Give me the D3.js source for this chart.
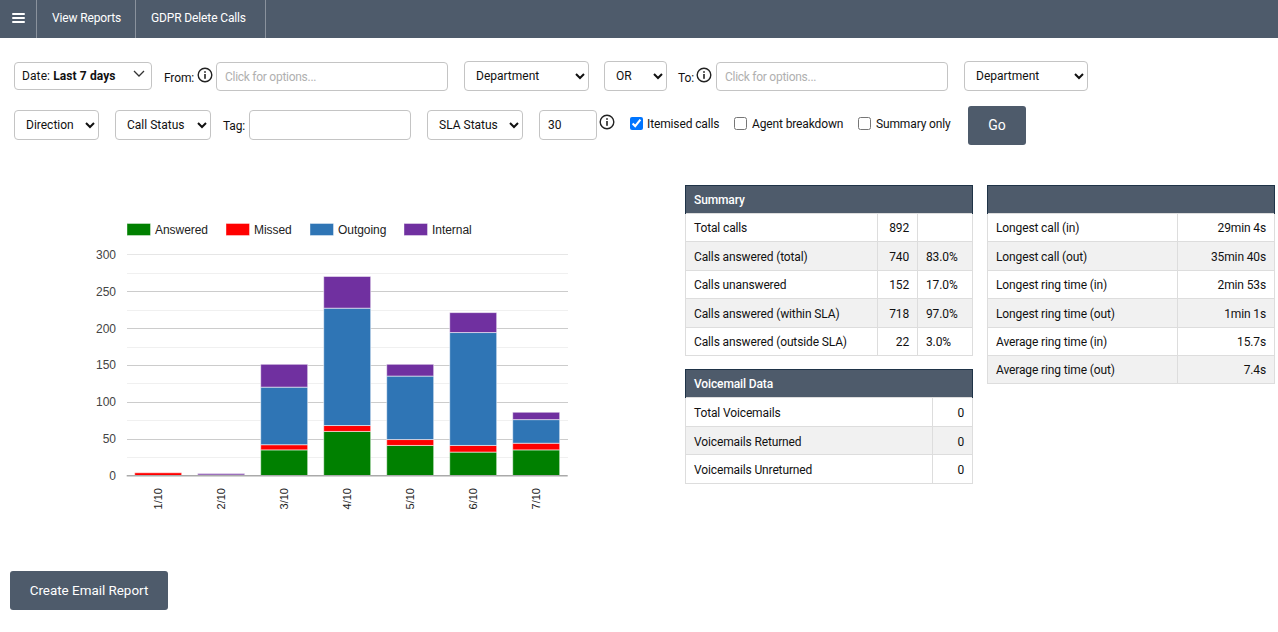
<!DOCTYPE html>
<html><head><meta charset="utf-8">
<script src="https://cdn.jsdelivr.net/npm/d3@7"></script>
<style>
html,body{margin:0;padding:0;background:#fff;overflow:hidden;width:1278px;height:632px;font-family:Roboto,Arial,sans-serif;font-size:12px;color:#111;letter-spacing:-0.13px}
#page{position:relative;width:1278px;height:632px}
#page>*{position:absolute;box-sizing:border-box}
.nav{left:0;top:0;width:1278px;height:38px;background:#4e5b6b}
.sep{top:0;width:1px;height:38px;background:#8a929d}
.navt{top:0;line-height:37px;color:#fff}
select,input[type=text]{font:12px Roboto,Arial,sans-serif;color:#111;background:#fff;border:1px solid #c4c4c4;border-radius:4px;box-sizing:border-box;outline:none;letter-spacing:0}
select{padding-left:7px}
input[type=text]{padding:0 8px}
input::placeholder{color:#b0b0b0;opacity:1;letter-spacing:-0.27px}
.lbl{white-space:nowrap;line-height:14px}
.btn{background:#4e5b6b;color:#fff;border-radius:3px;text-align:center;font-weight:400;letter-spacing:0}
input[type=checkbox]{margin:0;width:13px;height:13px}
table{border-collapse:collapse;table-layout:fixed;font-size:12px}
th{background:#4e5b6b;color:#fff;font-weight:500;text-align:left;padding:0 8px;border:1px solid #1f3347;border-bottom:none;height:28px;box-sizing:border-box}
td{border:1px solid #ddd;padding:1.6px 8px 0 8px;height:28.4px;box-sizing:border-box;white-space:nowrap}
table.vm td{padding-top:2px;height:28.7px}
tr.alt td{background:#f1f1f1}
td.r{text-align:right}
</style></head><body><div id="page">
<svg id="chart" width="1278" height="632" style="left:0;top:0"></svg>
</div>
<script>
const dates = ["1/10","2/10","3/10","4/10","5/10","6/10","7/10"];
const seriesNames = ["Answered","Missed","Outgoing","Internal"];
const seriesColors = ["#008000","#ff0000","#2f75b5","#7030a0"];
const answered = [0,0,35,60,41,32,35];
const missed = [4,1,7,8,8,9,9];
const outgoing = [0,0,78,159,86,153,32];
const internal = [0,2,31,43,16,27,10];
const legendX = [127,226,310,404];

const summaryRows = [["Total calls","892",""],["Calls answered (total)","740","83.0%"],["Calls unanswered","152","17.0%"],["Calls answered (within SLA)","718","97.0%"],["Calls answered (outside SLA)","22","3.0%"]];
const voicemailRows = [["Total Voicemails","0"],["Voicemails Returned","0"],["Voicemails Unreturned","0"]];
const timeRows = [["Longest call (in)","29min 4s"],["Longest call (out)","35min 40s"],["Longest ring time (in)","2min 53s"],["Longest ring time (out)","1min 1s"],["Average ring time (in)","15.7s"],["Average ring time (out)","7.4s"]];

const page = d3.select("#page");
const place = (s,x,y,w,h)=>{s.style("left",x+"px").style("top",y+"px");if(w)s.style("width",w+"px");if(h)s.style("height",h+"px");return s;};

// nav
page.append("div").attr("class","nav");
[36,135,265].forEach(x=>place(page.append("div").attr("class","sep"),x,0));
[[52,"View Reports"],[151,"GDPR Delete Calls"]].forEach(d=>place(page.append("div").attr("class","navt").text(d[1]),d[0],0));
[13,17,21].forEach(y=>place(page.append("div").style("background","#fff").style("border-radius","1px"),12,y-0.5,13,2));

// form
function sel(t,x,y,w,h){place(page.append("select"),x,y,w,h).append("option").text(t);}
function lab(t,x,y){place(page.append("div").attr("class","lbl").text(t),x,y);}
function inp(ph,x,y,w,h,v){const i=place(page.append("input").attr("type","text"),x,y,w,h);if(ph)i.attr("placeholder",ph);if(v)i.attr("value",v);}
function info(x,y){
  const s=place(page.append("svg").attr("width",16).attr("height",16),x-8,y-8);
  s.append("circle").attr("cx",8).attr("cy",8).attr("r",6.8).attr("fill","none").attr("stroke","#222").attr("stroke-width",1.4);
  s.append("rect").attr("x",7.2).attr("y",7).attr("width",1.6).attr("height",4.8).attr("fill","#222");
  s.append("rect").attr("x",7.2).attr("y",4.2).attr("width",1.6).attr("height",1.6).attr("fill","#222");
}
function chk(x,y,c,t,tx){const i=place(page.append("input").attr("type","checkbox"),x,y);if(c)i.property("checked",true);lab(t,tx,y);}

const dd=place(page.append("div"),14,62,138,28).style("border","1px solid #c4c4c4").style("border-radius","4px").style("line-height","27px").style("padding-left","7px").style("letter-spacing","0.1px").html('Date: <b style="font-weight:700">Last 7 days</b>');
const cv=place(page.append("svg").attr("width",12).attr("height",8),133,70);
cv.append("path").attr("d","M1 1L6 6L11 1").attr("fill","none").attr("stroke","#333").attr("stroke-width",1.3);
lab("From:",164,71);info(205,75);
inp("Click for options...",216,62,232,29);
sel("Department",464,61,125,30);
sel("OR",604,61,63,30);
lab("To:",678,71);info(704,75);
inp("Click for options...",716,62,232,29);
sel("Department",964,61,124,30);

sel("Direction",14,110,85,30);
sel("Call Status",115,110,96,30);
lab("Tag:",223,119);
inp("",249,110,162,30);
sel("SLA Status",427,110,96,30);
inp("",539,110,58,30,"30");
info(607,122);
chk(630,117,true,"Itemised calls",647);
chk(734,117,false,"Agent breakdown",752);
chk(858,117,false,"Summary only",876);
place(page.append("div").attr("class","btn").text("Go").style("line-height","39px").style("font-size","14px"),968,106,58,39);
place(page.append("div").attr("class","btn").text("Create Email Report").style("line-height","39px").style("font-size","13.4px"),10,571,158,39);

// tables
function tbl(x,y,w,title,cols,rows,cls){
  const t=place(page.append("table").attr("class",cls||""),x,y,w);
  const cg=t.append("colgroup");cols.forEach(c=>cg.append("col").style("width",c+"px"));
  t.append("tr").append("th").attr("colspan",cols.length).text(title);
  rows.forEach((r,i)=>{
    const tr=t.append("tr").attr("class",i%2?"alt":"");
    r.forEach((c,j)=>{
      const isPct=cols.length===3&&j===2;
      tr.append("td").attr("class",j>0&&!isPct?"r":"").text(c);
    });
  });
}
tbl(685,185,287,"Summary",[192,40,55],summaryRows);
tbl(685,369,287,"Voicemail Data",[247,40],voicemailRows,"vm");
tbl(987,185,287,"\u00a0",[190,97],timeRows);

// chart
const svg=d3.select("#chart");
const x=d3.scaleBand().domain(dates).range([126.7,567.7]).paddingInner(0.254).paddingOuter(0.127);
const y=d3.scaleLinear().domain([0,300]).range([475.7,254.3]);
const rowsData=dates.map((d,i)=>({date:d,Answered:answered[i],Missed:missed[i],Outgoing:outgoing[i],Internal:internal[i]}));
const stack=d3.stack().keys(seriesNames)(rowsData);

const gridStyle=(g,c)=>{g.select(".domain").remove();g.selectAll("text").remove();g.selectAll("line").attr("stroke",c).attr("shape-rendering","crispEdges");};
svg.append("g").attr("transform","translate(126.7,0)").call(d3.axisRight(y).tickValues(d3.range(25,300,50)).tickSize(441)).call(g=>gridStyle(g,"#f0f0f0"));
svg.append("g").attr("transform","translate(126.7,0)").call(d3.axisRight(y).tickValues(d3.range(50,251,50)).tickSize(441)).call(g=>gridStyle(g,"#cccccc"));
svg.append("g").attr("transform","translate(126.7,0)").call(d3.axisRight(y).tickValues([300]).tickSize(441)).call(g=>gridStyle(g,"#e6e6e6"));

const colour=d3.scaleOrdinal().domain(seriesNames).range(seriesColors);
svg.append("g").selectAll("g").data(stack).join("g").attr("fill",d=>colour(d.key))
 .selectAll("rect").data(s=>s.filter(d=>d[1]>d[0]).map(d=>({d}))).join("rect")
 .attr("x",o=>x(o.d.data.date)).attr("width",x.bandwidth())
 .attr("y",o=>y(o.d[1])).attr("height",o=>y(o.d[0])-y(o.d[1]))
 .attr("stroke","#fff").attr("stroke-opacity",0.55).attr("stroke-width",1);

svg.append("line").attr("x1",126.7).attr("x2",567.7).attr("y1",y(0)).attr("y2",y(0)).attr("stroke","#aaa").attr("stroke-width",1.5);

const yAxis=svg.append("g").attr("transform","translate(116,0.1)").call(d3.axisLeft(y).tickValues(d3.range(0,301,50)).tickSize(0).tickPadding(0));
yAxis.select(".domain").remove();
yAxis.selectAll("text").attr("font-family","Liberation Sans, Arial").attr("font-size",12).attr("fill","#444").attr("letter-spacing",0);

const xAxis=svg.append("g").attr("transform","translate(0.3,488)").call(d3.axisBottom(x).tickSize(0).tickPadding(0));
xAxis.select(".domain").remove();
xAxis.selectAll("text").attr("font-family","Liberation Sans, Arial").attr("font-size",11).attr("fill","#222").attr("letter-spacing",0)
 .attr("transform","rotate(-90)").attr("text-anchor","end").attr("dy","0.35em").attr("x",0).attr("y",0);

const lg=svg.append("g").selectAll("g").data(seriesNames).join("g").attr("transform",(d,i)=>`translate(${legendX[i]},223.5)`);
lg.append("rect").attr("width",23.5).attr("height",12).attr("fill",d=>colour(d)).attr("stroke","#fff").attr("stroke-opacity",0.4);
lg.append("text").attr("x",28).attr("y",10.3).attr("font-family","Liberation Sans, Arial").attr("font-size",12).attr("letter-spacing",-0.05).attr("fill","#222").text(d=>d);
</script></body></html>
